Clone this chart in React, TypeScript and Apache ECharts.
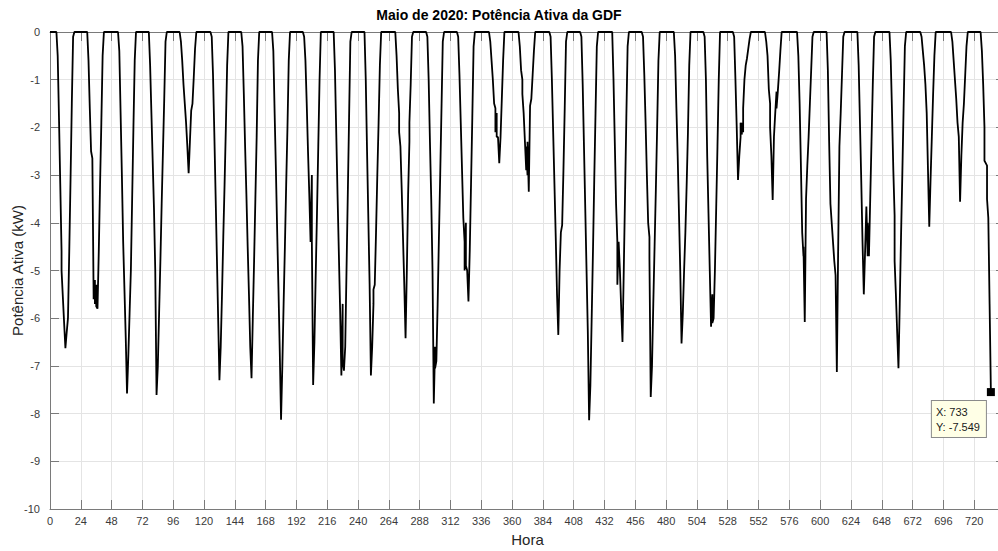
import React, { useEffect, useRef } from "react";
import * as echarts from "echarts";

// Hourly active power (kW) per day, May 2020. An entry [a, b] means two samples in that hour.
type V = number | number[];
const day01: V[] = [0,0,0,0,0,0,-0.5,-1.8,-3.2,[-4.6,-5.0],-5.55,-6.1,-6.63,-6.3,-6.0,-4.6,-3.1,-1.5,-0.1,0,0,0,0,0];
const day02: V[] = [0,0,0,0,0,0,-0.6,-1.6,-2.5,-2.65,-5.6,[-5.2,-5.7],[-5.3,-5.75],-5.8,-4.6,-3.2,-1.9,-0.5,0,0,0,0,0,0];
const day03: V[] = [0,0,0,0,0,0,-0.4,-1.7,-3.0,-4.4,-5.4,-6.4,-7.58,-6.8,-5.9,-5.0,-3.5,-2.0,-0.6,0,0,0,0,0];
const day04: V[] = [0,0,0,0,0,0,-0.7,-1.7,-2.7,-3.7,-5.0,-7.61,-7.0,-5.9,-4.8,-3.6,-2.5,-1.4,-0.2,0,0,0,0,0];
const day05: V[] = [0,0,0,0,0,0,-0.2,-0.6,-1.1,-1.5,-1.9,-2.4,-2.96,-2.3,-1.65,-1.5,-0.95,-0.35,0,0,0,0,0,0];
const day06: V[] = [0,0,0,0,0,0,-0.1,-0.9,-2.1,-3.4,-4.7,-6.0,-7.3,-6.6,-5.5,-4.3,-3.2,-2.0,-0.7,0,0,0,0,0];
const day07: V[] = [0,0,0,0,0,0,-0.3,-1.3,-2.4,-3.4,-4.5,-5.5,-6.6,-7.26,-6.0,-4.8,-3.5,-2.2,-0.6,0,0,0,0,0];
const day08: V[] = [0,0,0,0,0,0,-0.4,-1.7,-2.9,-4.2,-5.4,-6.7,-8.13,-7.0,-5.7,-4.5,-3.2,-2.0,-0.6,0,0,0,0,0];
const day09: V[] = [0,0,0,0,0,0,-0.1,-0.6,-1.5,-2.5,-3.4,-4.4,[-3.0,-4.4],-7.4,-6.5,-5.1,-3.8,-2.4,-1.0,0,0,0,0,0];
const day10: V[] = [0,0,0,0,0,0,-0.8,-2.1,-3.4,-4.6,-5.8,-7.2,[-5.7,-6.9],-7.1,-6.6,-5.0,-3.4,-1.8,-0.2,0,0,0,0,0];
const day11: V[] = [0,0,0,0,0,0,-1.0,-2.5,-3.9,-5.3,-7.2,-6.6,[-5.7,-5.4],-5.3,-4.2,-3.0,-1.9,-0.7,0,0,0,0,0,0];
const day12: V[] = [0,0,0,0,0,0,-0.5,-1.2,[-1.7,-2.1],-2.4,-3.3,-4.3,-5.3,-6.42,-5.0,-3.4,[-2.3,-1.9],-1.1,-0.1,0,0,0,0,0];
const day13: V[] = [0,0,0,0,0,0,-0.1,-1.0,-2.3,-3.5,-5.0,-7.79,[-6.6,-7.05],-6.9,-5.7,-4.3,-3.0,-1.6,-0.2,0,0,0,0,0];
const day14: V[] = [0,0,0,0,0,0,-0.1,-0.9,-1.9,-2.9,-3.9,[-4.4,-5.0],[-4.0,-4.9],-5.0,-5.65,-4.6,-3.2,-1.8,-0.3,0,0,0,0,0];
const day15: V[] = [0,0,0,0,0,0,0,-0.2,-0.6,-1.0,-1.5,[-1.6,-2.1],[-1.7,-2.2],-2.2,-2.75,-2.2,-1.4,-0.6,0,0,0,0,0,0];
const day16: V[] = [0,0,0,0,0,0,-0.3,-0.8,[-1.0,-1.3],-1.7,-2.3,[-2.9,-2.4],[-3.0,-2.3],-3.35,-1.55,-1.4,-0.9,-0.4,0,0,0,0,0,0];
const day17: V[] = [0,0,0,0,0,0,-0.1,-1.0,-2.1,-3.2,-4.3,-5.5,-6.35,-5.0,-4.2,-4.05,-2.9,-1.6,-0.2,0,0,0,0,0];
const day18: V[] = [0,0,0,0,0,0,-0.1,-1.1,-2.4,-3.7,-5.0,-6.3,-8.14,-7.4,-6.0,-4.6,-3.1,-1.7,-0.3,0,0,0,0,0];
const day19: V[] = [0,0,0,0,0,0,0,-1.0,-2.3,-3.6,[-4.4,-5.3],-4.4,-5.0,-5.8,-6.5,-5.0,-3.4,-1.8,-0.3,0,0,0,0,0];
const day20: V[] = [0,0,0,0,0,0,-0.1,-0.9,-1.9,-3.0,-4.0,[-4.3,-4.75],-7.65,-7.0,-5.7,-4.5,-3.3,-2.0,-0.6,0,0,0,0,0];
const day21: V[] = [0,0,0,0,0,0,0,-0.5,-1.6,-2.6,-3.8,-5.0,-6.53,-5.9,-5.0,-4.2,-3.2,-2.1,-0.7,0,0,0,0,0];
const day22: V[] = [0,0,0,0,0,0,-0.1,-1.0,-2.6,-3.8,-5.0,-6.18,[-5.5,-6.1],-6.0,-5.0,-3.7,-2.4,-1.0,0,0,0,0,0,0];
const day23: V[] = [0,0,0,0,0,-0.1,-1.0,-2.0,-3.1,-2.6,[-2.2,-1.9],[-2.15,-1.9],[-2.1,-1.6],-1.0,-0.7,-0.55,-0.35,-0.15,0,0,0,0,0,0];
const day24: V[] = [0,0,0,0,0,0,-0.2,-0.5,-1.2,[-1.5,-2.0],-2.6,-3.52,-2.2,-1.7,[-1.25,-1.6],-1.25,-0.85,-0.4,0,0,0,0,0,0];
const day25: V[] = [0,0,0,0,0,0,0,-0.5,-1.5,-2.8,-4.2,[-4.7,-4.5],-6.08,-3.5,-2.8,-2.2,-1.5,-0.8,-0.1,0,0,0,0,0];
const day26: V[] = [0,0,0,0,0,0,-0.8,-2.3,-3.6,-4.0,-4.4,-4.8,-5.1,-7.13,-4.6,-2.4,-1.7,-0.9,-0.1,0,0,0,0,0];
const day27: V[] = [0,0,0,0,0,0,-0.7,-1.9,-3.1,-4.4,-5.5,-4.6,-3.66,[-4.7,-4.0],-4.7,-3.5,-2.3,-1.1,-0.1,0,0,0,0,0];
const day28: V[] = [0,0,0,0,0,0,0,-0.6,-1.7,-2.9,[-3.85,-4.8],-5.5,-6.3,-7.05,-5.7,-4.3,-3.0,-1.6,-0.3,0,0,0,0,0];
const day29: V[] = [0,0,0,0,0,0,0,-0.1,-0.4,-0.7,-1.1,-1.7,-2.9,-4.08,-3.1,-2.2,-1.3,-0.5,0,0,0,0,0,0];
const day30: V[] = [0,0,0,0,0,0,0,-0.2,-0.6,-1.0,-1.4,-1.9,-2.2,-3.56,-2.6,-1.9,-1.5,-0.9,-0.3,0,0,0,0,0];
const day31: V[] = [0,0,0,0,0,0,-0.4,-1.1,[-2.0,-2.7],-2.75,[-2.8,-3.5],-3.9,-5.7,-7.549];

const days: V[][] = [day01,day02,day03,day04,day05,day06,day07,day08,day09,day10,day11,day12,day13,day14,day15,day16,day17,day18,day19,day20,day21,day22,day23,day24,day25,day26,day27,day28,day29,day30,day31];

// Axis settings
const xMin = 0;
const xMax = 744;
const xStep = 24;
const yMin = -10;
const yMax = 0;
const yStep = 1;

// Data tip
const tipX = 733;
const tipY = -7.549;

const titleText = "Maio de 2020: Potência Ativa da GDF";
const xName = "Hora";
const yName = "Potência Ativa (kW)";

const FONT = "'Liberation Sans', Arial, Helvetica, sans-serif";

function buildPoints(): [number, number][] {
  const pts: [number, number][] = [];
  days.forEach((day, d) => {
    day.forEach((v, h) => {
      const vals = Array.isArray(v) ? v : [v];
      vals.forEach((y) => pts.push([d * 24 + h, y]));
    });
  });
  return pts;
}

export default function App() {
  const ref = useRef<HTMLDivElement>(null);
  useEffect(() => {
    if (!ref.current) return;
    const chart = echarts.init(ref.current, null, { renderer: "svg" });
    const axisColor = "#7a7a7a";
    const gridColor = "#e4e4e4";
    const labelColor = "#3a3a3a";
    chart.setOption({
      animation: false,
      backgroundColor: "#ffffff",
      title: {
        text: titleText,
        left: "center",
        top: 3,
        textStyle: { fontFamily: FONT, fontSize: 14, fontWeight: "bold", color: "#000" },
      },
      grid: { left: 50, top: 32, width: 955, height: 477, outerBoundsMode: "none", containLabel: false },
      xAxis: [
        {
          type: "value",
          min: xMin,
          max: xMax,
          interval: xStep,
          position: "bottom",
          name: xName,
          nameLocation: "middle",
          nameGap: 23,
          nameTextStyle: { fontFamily: FONT, fontSize: 15, color: "#262626" },
          axisLine: { show: true, onZero: false, lineStyle: { color: axisColor, width: 1 } },
          axisTick: { show: true, inside: true, length: 9, lineStyle: { color: axisColor } },
          axisLabel: { color: labelColor, fontFamily: FONT, fontSize: 11, margin: 6, showMaxLabel: false },
          splitLine: { show: true, lineStyle: { color: gridColor, width: 1 } },
        },
        {
          type: "value",
          min: xMin,
          max: xMax,
          interval: xStep,
          position: "top",
          axisLine: { show: true, onZero: false, lineStyle: { color: axisColor, width: 1 } },
          axisTick: { show: true, inside: true, length: 9, lineStyle: { color: axisColor } },
          axisLabel: { show: false },
          splitLine: { show: false },
        },
      ],
      yAxis: [
        {
          type: "value",
          min: yMin,
          max: yMax,
          interval: yStep,
          position: "left",
          name: yName,
          nameLocation: "middle",
          nameGap: 25,
          nameMoveOverlap: false,
          nameTextStyle: { fontFamily: FONT, fontSize: 15, color: "#262626" },
          axisLine: { show: true, onZero: false, lineStyle: { color: axisColor, width: 1 } },
          axisTick: { show: true, inside: true, length: 9, lineStyle: { color: axisColor } },
          axisLabel: { color: labelColor, fontFamily: FONT, fontSize: 11, margin: 10 },
          splitLine: { show: true, lineStyle: { color: gridColor, width: 1 } },
        },
        {
          type: "value",
          min: yMin,
          max: yMax,
          interval: yStep,
          position: "right",
          axisLine: { show: true, onZero: false, lineStyle: { color: axisColor, width: 1 } },
          axisTick: { show: true, inside: true, length: 9, lineStyle: { color: axisColor } },
          axisLabel: { show: false },
          splitLine: { show: false },
        },
      ],
      series: [
        {
          type: "line",
          data: buildPoints(),
          xAxisIndex: 0,
          yAxisIndex: 0,
          showSymbol: false,
          symbol: "none",
          clip: false,
          z: 5,
          lineStyle: { color: "#000", width: 1.8 },
          markPoint: {
            symbol: "rect",
            symbolSize: 8,
            itemStyle: { color: "#000" },
            data: [{ coord: [tipX, tipY], value: tipY }],
            label: {
              show: true,
              position: [-55, 13],
              formatter: `X: ${tipX}\nY: ${tipY}`,
              fontFamily: FONT,
              fontSize: 11,
              color: "#1a1a1a",
              lineHeight: 15,
              align: "left",
              backgroundColor: "#ffffe6",
              borderColor: "#8a8a8a",
              borderWidth: 1,
              padding: [3, 6, 3, 4],
            },
          },
        },
      ],
    });
    return () => chart.dispose();
  }, []);
  return (
    <div
      ref={ref}
      style={{ position: "fixed", left: 0, top: 0, width: 998, height: 551, background: "#fff" }}
    />
  );
}
